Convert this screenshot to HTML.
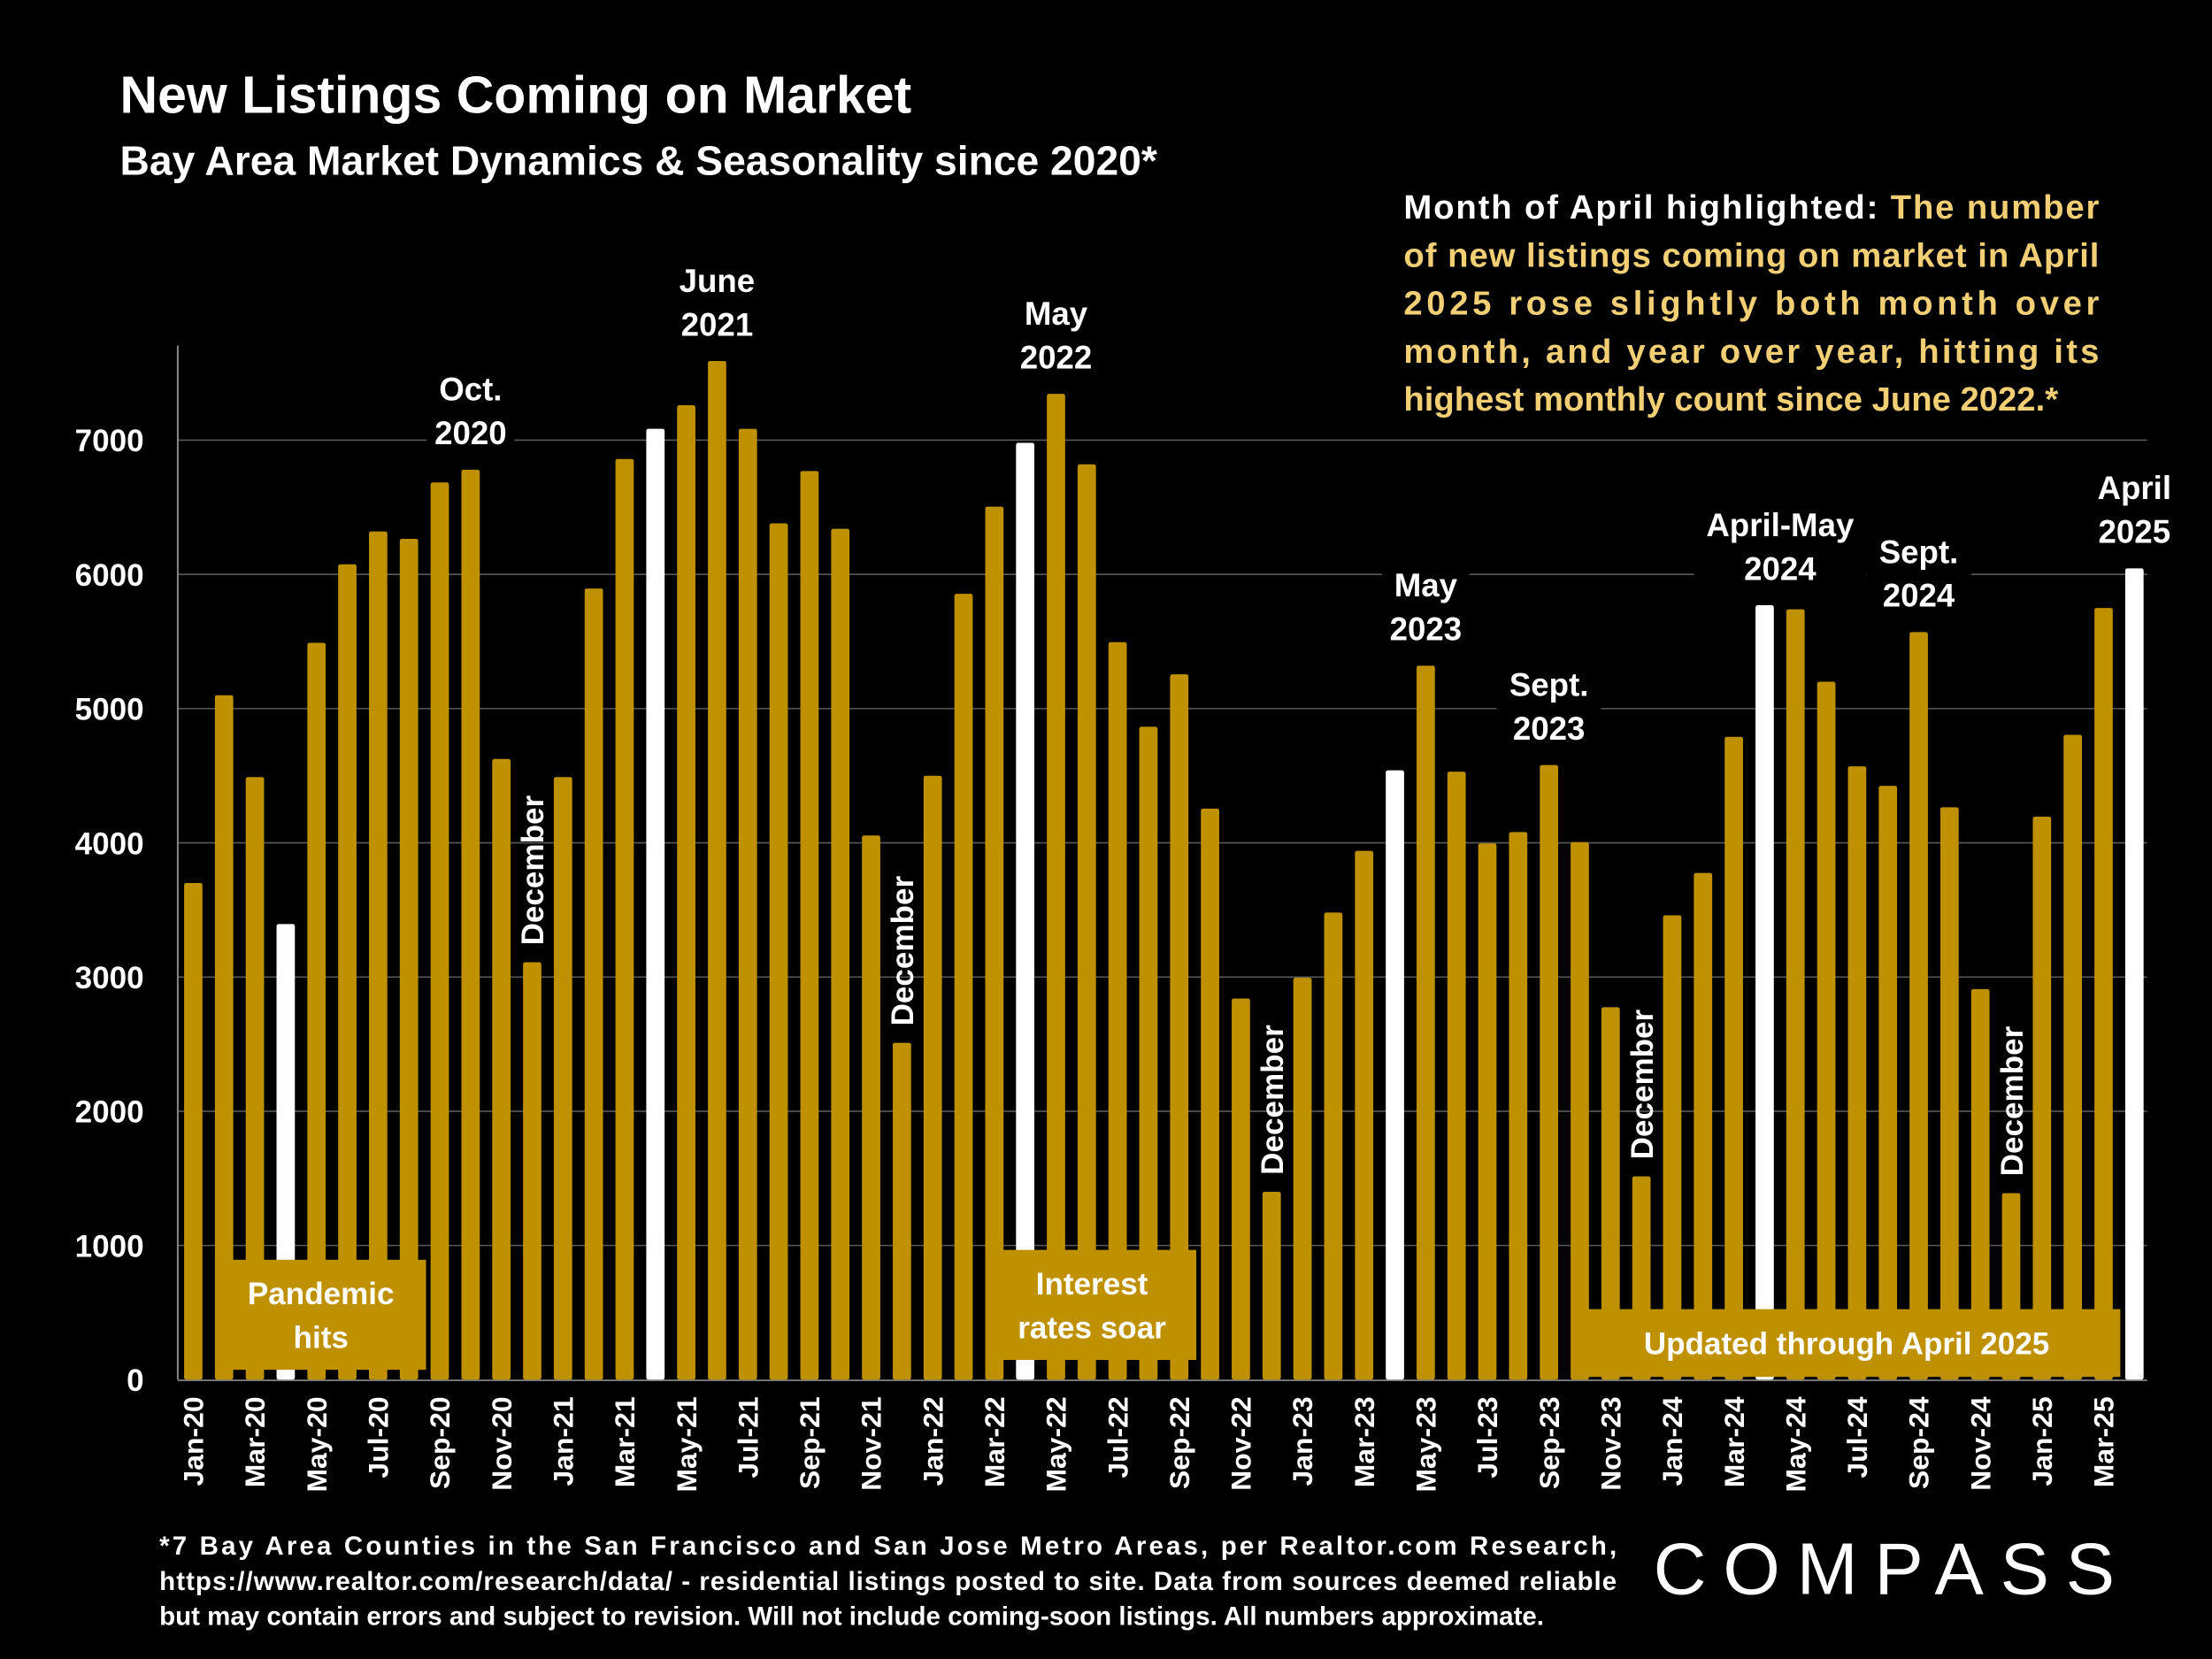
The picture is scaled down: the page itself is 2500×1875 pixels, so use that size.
<!DOCTYPE html>
<html><head><meta charset="utf-8"><style>
html,body{margin:0;padding:0;background:#000;}
svg{display:block;}
text{font-family:"Liberation Sans",sans-serif;font-weight:bold;fill:#fff;}
</style></head><body>
<svg id="chart" width="2500" height="1875" viewBox="0 0 1568 1176" xmlns="http://www.w3.org/2000/svg">
<rect width="1568" height="1176" fill="#000"/>
<text x="85" y="80" font-size="37">New Listings Coming on Market</text>
<text x="85" y="124" font-size="29">Bay Area Market Dynamics &amp; Seasonality since 2020*</text>
<g id="grid"></g>
<g id="bars"></g>
<g id="xlabels"></g>
<g id="ylabels"></g>
<g id="notes"></g>
<g font-size="24">
<text x="995" y="155" textLength="493" lengthAdjust="spacing"><tspan fill="#fff">Month of April highlighted: </tspan><tspan fill="#F2CF74" style="fill:#F2CF74">The number</tspan></text>
<text x="995" y="189" textLength="493" lengthAdjust="spacing" style="fill:#F2CF74">of new listings coming on market in April</text>
<text x="995" y="223" textLength="493" lengthAdjust="spacing" style="fill:#F2CF74">2025 rose slightly both month over</text>
<text x="995" y="257" textLength="493" lengthAdjust="spacing" style="fill:#F2CF74">month, and year over year, hitting its</text>
<text x="995" y="291" style="fill:#F2CF74">highest monthly count since June 2022.*</text>
</g>
<g font-size="18.5">
<text x="113" y="1102" textLength="1033" lengthAdjust="spacing">*7 Bay Area Counties in the San Francisco and San Jose Metro Areas, per Realtor.com Research,</text>
<text x="113" y="1127" textLength="1033" lengthAdjust="spacing">https://www.realtor.com/research/data/ - residential listings posted to site.  Data from sources deemed reliable</text>
<text x="113" y="1152">but may contain errors and subject to revision. Will not include coming-soon listings. All numbers approximate.</text>
</g>
<text x="1172" y="1130" font-size="52" textLength="333" lengthAdjust="spacing" style="font-weight:normal;letter-spacing:6px">COMPASS</text>
</svg>
<script>
const months = ["Jan-20","Feb-20","Mar-20","Apr-20","May-20","Jun-20","Jul-20","Aug-20","Sep-20","Oct-20","Nov-20","Dec-20",
"Jan-21","Feb-21","Mar-21","Apr-21","May-21","Jun-21","Jul-21","Aug-21","Sep-21","Oct-21","Nov-21","Dec-21",
"Jan-22","Feb-22","Mar-22","Apr-22","May-22","Jun-22","Jul-22","Aug-22","Sep-22","Oct-22","Nov-22","Dec-22",
"Jan-23","Feb-23","Mar-23","Apr-23","May-23","Jun-23","Jul-23","Aug-23","Sep-23","Oct-23","Nov-23","Dec-23",
"Jan-24","Feb-24","Mar-24","Apr-24","May-24","Jun-24","Jul-24","Aug-24","Sep-24","Oct-24","Nov-24","Dec-24",
"Jan-25","Feb-25","Mar-25","Apr-25"];
const listings = [3700,5100,4490,3395,5490,6075,6320,6265,6685,6780,4625,3110,
4490,5895,6860,7085,7260,7590,7085,6380,6770,6340,4055,2510,
4500,5855,6505,6980,7345,6820,5495,4865,5255,4255,2840,1400,
2995,3480,3940,4540,5320,4530,3995,4080,4580,4005,2775,1515,
3460,3775,4790,5770,5740,5200,4570,4425,5570,4265,2910,1390,
4195,4805,5750,6045];
const yTicks = [0,1000,2000,3000,4000,5000,6000,7000];
const yTickLabels = ["0","1000","2000","3000","4000","5000","6000","7000"];
const callouts = [["Oct.","2020",9],["June","2021",17],["May","2022",28],["May","2023",40],["Sept.","2023",44],["April-May","2024",51.5],["Sept.","2024",56],["April","2025",63]];
const decembers = [11,23,35,47,59];

const NS="http://www.w3.org/2000/svg";
const x0=137, step=(1513-137)/63, bw=13;
function xs(i){return x0+i*step;}
function ys(v){return 978 - v/1000*95.14;}
function mk(tag,attrs,parent,txt){const e=document.createElementNS(NS,tag);for(const k in attrs)e.setAttribute(k,attrs[k]);if(txt!==undefined)e.textContent=txt;parent.appendChild(e);return e;}

const grid=document.getElementById('grid');
yTicks.forEach((t,i)=>{
  if(t>0){const l=mk('line',{x1:126,x2:1522,y1:ys(t),y2:ys(t),stroke:'#595959','stroke-width':1},grid);
  
  }
  const tx=mk('text',{x:102,y:ys(t)+8,'font-size':22,'text-anchor':'end'},document.getElementById('ylabels'),yTickLabels[i]);
  
  
});
const ax=mk('line',{x1:126,x2:126,y1:245,y2:978,stroke:'#8c8c8c','stroke-width':1.2},grid);


const bx=mk('line',{x1:126,x2:1522,y1:978.5,y2:978.5,stroke:'#8c8c8c','stroke-width':1},grid);



const bars=document.getElementById('bars');
listings.forEach((v,i)=>{
  const white=months[i].startsWith('Apr');
  const r=mk('rect',{x:xs(i)-bw/2,y:ys(v),width:bw,height:978-ys(v),rx:1.5,fill:white?'#ffffff':'#BF9000'},bars);
  
  
});
const xl=document.getElementById('xlabels');
months.forEach((m,i)=>{
  if(i%2)return;
  const t=mk('text',{x:0,y:0,'font-size':20,'text-anchor':'end',transform:`translate(${xs(i)+7},990) rotate(-90)`},xl,m);
  
  
});
const notes=document.getElementById('notes');
callouts.forEach(c=>{
  const i=c[2];const cx=xs(Math.floor(i))+(i%1?step/2:0);
  const vi=Math.floor(i);const top=ys(listings[vi])-12;
  const w=Math.max(c[0].length,c[1].length)*12+14;
  mk('rect',{x:cx-w/2,y:top-62,width:w,height:62,fill:'#000'},notes);
  const t1=mk('text',{x:cx,y:top-37,'font-size':23,'text-anchor':'middle'},notes,c[0]);
  
  
  const t2=mk('text',{x:cx,y:top-6,'font-size':23,'text-anchor':'middle'},notes,c[1]);
  
  
});
decembers.forEach(i=>{
  const t=mk('text',{x:0,y:0,'font-size':22,'text-anchor':'start',transform:`translate(${xs(i)+8},${ys(listings[i])-12}) rotate(-90)`},notes,'December');
  
  
});
function box(x,y,w,h,lines,name){
  const g=mk('g',{},notes);
  
  
  mk('rect',{x:x,y:y,width:w,height:h,fill:'#BF9000'},g);
  lines.forEach((l,k)=>mk('text',{x:x+w/2,y:y+h/2+8+(k-(lines.length-1)/2)*31,'font-size':22,'text-anchor':'middle'},g,l));
}
box(153,893,149,78,["Pandemic","hits"],'pandemic-hits-box');
box(700,886,148,78,["Interest","rates soar"],'interest-rates-box');
box(1115,928,388,48,["Updated through April 2025"],'updated-through-box');
</script>
</body></html>
